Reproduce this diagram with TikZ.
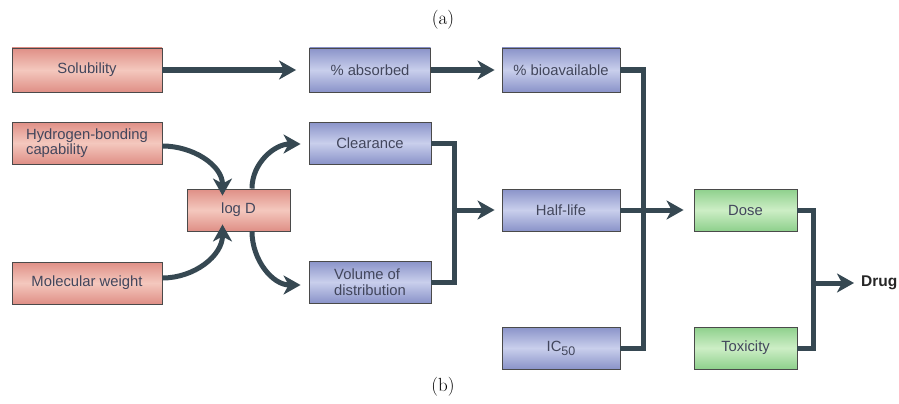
\documentclass[tikz,border=0pt]{standalone}
\usepackage{fontspec}
\setsansfont{Liberation Sans}
\usetikzlibrary{arrows.meta}
\definecolor{redE}{HTML}{DF8F86}
\definecolor{redC}{HTML}{F4C8BE}
\definecolor{bluE}{HTML}{8A93C9}
\definecolor{bluC}{HTML}{C9CFEC}
\definecolor{grnE}{HTML}{8ED08C}
\definecolor{grnC}{HTML}{CDEEC6}
\definecolor{txt}{HTML}{42465C}
\definecolor{arrc}{HTML}{364852}
\definecolor{bord}{HTML}{4A4A4A}
\tikzset{
  box/.style={draw=bord, line width=0.9pt, rectangle, inner sep=0pt,
    font=\sffamily\fontsize{14.8}{15.5}\selectfont, text=txt, align=center},
  redbox/.style={box, top color=redE, bottom color=redE, middle color=redC},
  blubox/.style={box, top color=bluE, bottom color=bluE, middle color=bluC},
  grnbox/.style={box, top color=grnE, bottom color=grnE, middle color=grnC},
  conn/.style={draw=arrc, line width=5pt, line join=miter},
  arr/.style={conn, -{Stealth[length=17pt,width=19pt,inset=5pt]}},
}
\begin{document}
\begin{tikzpicture}[x=1pt,y=-1pt]
\useasboundingbox (0,0) rectangle (899,404);
% labels
\node[font=\fontsize{19}{21}\selectfont] (la) at (443,20) {(a)};
\node[font=\fontsize{19}{21}\selectfont] (lb) at (443,387) {(b)};
% left column
\node[redbox, minimum width=150pt, minimum height=44pt] (sol) at (87,70) {Solubility};
\node[redbox, minimum width=150pt, minimum height=42pt, align=left] (hb) at (87,143) {Hydrogen-bonding\\capability};
\node[redbox, minimum width=150pt, minimum height=42pt] (mw) at (87,283) {Molecular weight};
\node[redbox, minimum width=103pt, minimum height=42pt] (logd) at (238.5,210) {log D};
% middle column
\node[blubox, minimum width=121pt, minimum height=44pt] (abs) at (370,70) {\% absorbed};
\node[blubox, minimum width=122pt, minimum height=42pt] (clr) at (370,143) {Clearance};
\node[blubox, minimum width=122pt, minimum height=42pt, align=left] (vol) at (370,282) {Volume of\\distribution};
% third column
\node[blubox, minimum width=118pt, minimum height=44pt] (bio) at (561,70) {\% bioavailable};
\node[blubox, minimum width=118pt, minimum height=42pt] (hl) at (561,210) {Half-life};
\node[blubox, minimum width=118pt, minimum height=42pt] (ic) at (561,348) {IC\raisebox{-4pt}{\fontsize{12.5}{13}\selectfont 50}};
% fourth column
\node[grnbox, minimum width=103pt, minimum height=42pt] (dose) at (745.5,210) {Dose};
\node[grnbox, minimum width=103pt, minimum height=42pt] (tox) at (745.5,348) {Toxicity};
\node[anchor=west, inner sep=0pt, font=\sffamily\bfseries\fontsize{15.5}{17}\selectfont, text=black!85] (drug) at (861,283) {Drug};
% straight arrows
\draw[arr] (sol.east) -- ([xshift=-13pt]abs.west);
\draw[arr] (abs.east) -- ([xshift=-7pt]bio.west);
% curved arrows
\draw[arr] ([yshift=-3pt]hb.east) to[out=0,in=90] ([xshift=-16pt,yshift=-7pt]logd.north);
\draw[arr] ([yshift=5pt]mw.east) to[out=0,in=-90] ([xshift=-16pt,yshift=7pt]logd.south);
\draw[arr] ([xshift=13.5pt]logd.north) to[out=90,in=180] ([xshift=-8pt,yshift=-1pt]clr.west);
\draw[arr] ([xshift=13.5pt]logd.south) to[out=-90,in=180] ([xshift=-8pt,yshift=-3pt]vol.west);
% merges
\coordinate (m1) at (454,210);
\coordinate (m2) at (643,210);
\coordinate (m3) at (813,283);
\draw[arr] (m1) -- ([xshift=-7pt]hl.west);
\draw[arr] (m3) -- ([xshift=-7pt]drug.west);
\draw[conn] (clr.east) -| (m1) |- (vol.east);
\draw[conn] (bio.east) -| (m2) |- (ic.east);
\draw[arr] (hl.east) -- ([xshift=-10pt]dose.west);
\draw[conn] (dose.east) -| (m3) |- (tox.east);
\end{tikzpicture}
\end{document}
